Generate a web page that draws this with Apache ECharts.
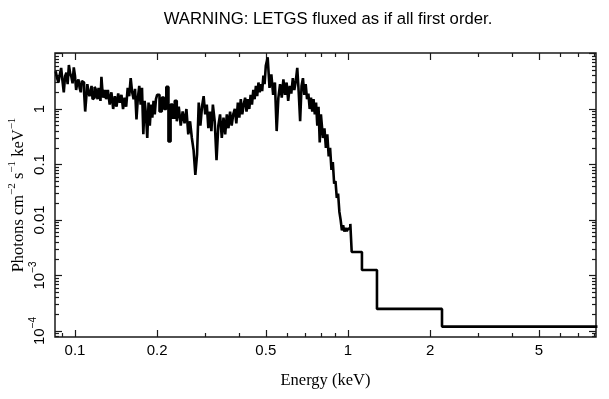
<!DOCTYPE html>
<html>
<head>
<meta charset="utf-8">
<script src="https://cdn.jsdelivr.net/npm/echarts@6/dist/echarts.min.js"></script>
<style>
  html, body { margin: 0; background: #fff; }
  #chart { width: 609px; height: 399px; }
</style>
</head>
<body>
<div id="chart"></div>
<script>
// bin lower edges (keV); the last entry closes the last bin
const energyEdges = [
  0.085, 0.086, 0.087, 0.088, 0.089, 0.090, 0.091, 0.092, 0.093, 0.094, 0.095, 0.096,
  0.097, 0.098, 0.099, 0.100, 0.101, 0.102, 0.103, 0.104, 0.105, 0.106, 0.107, 0.108,
  0.109, 0.110, 0.111, 0.112, 0.113, 0.114, 0.115, 0.116, 0.117, 0.118, 0.119, 0.120,
  0.121, 0.122, 0.123, 0.124, 0.125, 0.126, 0.127, 0.128, 0.129,
  0.130, 0.132, 0.134, 0.136, 0.138, 0.140, 0.142, 0.144, 0.146, 0.148, 0.150, 0.152,
  0.154, 0.156, 0.158, 0.160, 0.162, 0.164, 0.166, 0.168, 0.170, 0.172, 0.174, 0.176,
  0.178, 0.180, 0.182, 0.184, 0.186, 0.188, 0.190, 0.192, 0.194, 0.196, 0.198,
  0.200, 0.204, 0.208, 0.212, 0.216, 0.220, 0.224, 0.228, 0.232, 0.236, 0.240, 0.244,
  0.248, 0.252, 0.256, 0.260, 0.264, 0.268, 0.272, 0.276, 0.280, 0.284, 0.288, 0.292,
  0.296, 0.300, 0.304, 0.308, 0.312, 0.316,
  0.320, 0.325, 0.330, 0.335, 0.340, 0.345, 0.350, 0.355, 0.360, 0.365, 0.370, 0.375,
  0.380, 0.385, 0.390, 0.395, 0.400, 0.405, 0.410, 0.415, 0.420, 0.425, 0.430, 0.435,
  0.440, 0.445, 0.450, 0.455, 0.460, 0.465, 0.470, 0.475, 0.480, 0.485, 0.490, 0.495,
  0.500, 0.508, 0.516, 0.524, 0.532, 0.540, 0.548, 0.556, 0.564, 0.572, 0.580, 0.588,
  0.596, 0.604, 0.612, 0.620, 0.628, 0.636, 0.644, 0.652, 0.660, 0.668, 0.676, 0.684,
  0.692, 0.700, 0.708, 0.716, 0.724, 0.732, 0.740, 0.748, 0.756, 0.764, 0.772, 0.780,
  0.788, 0.796,
  0.80, 0.81, 0.82, 0.83, 0.84, 0.85, 0.86, 0.87, 0.88, 0.89, 0.90, 0.91,
  0.92, 0.93, 0.94, 0.95, 0.96, 0.97, 0.98, 0.99, 1.00, 1.01, 1.02,
  1.032, 1.125, 1.277, 2.21,
  8.2
];

// photons cm^-2 s^-1 keV^-1, one per bin
const photonFlux = [
  4.8, 3.6, 3.0, 4.2, 5.5, 3.2, 2.0, 3.9, 4.5, 2.8, 6.2, 4.4,
  3.8, 2.9, 5.6, 4.0, 2.2, 3.0, 3.4, 2.4, 2.0, 3.2, 3.0, 2.0,
  0.9, 1.6, 2.8, 2.1, 1.7, 2.0, 2.6, 1.5, 1.6, 2.5, 2.3, 1.9,
  1.5, 2.4, 2.0, 1.4, 3.8, 2.2, 1.6, 1.7, 2.2,
  1.5, 2.2, 1.2, 2.0, 1.0, 1.7, 1.1, 1.9, 1.3, 1.8, 1.0, 1.6,
  1.1, 2.4, 1.7, 3.6, 2.0, 1.5, 2.3, 0.65, 1.6, 2.6, 1.2, 2.4,
  0.35, 1.4, 0.8, 0.3, 1.3, 0.5, 1.2, 0.7, 1.4, 0.8, 1.5,
  1.8, 0.9, 1.6, 1.0, 2.5, 0.26, 1.2, 0.7, 1.4, 0.6, 1.1, 0.5,
  0.9, 0.55, 1.0, 0.35, 0.6, 0.3, 0.18, 0.065, 0.15, 1.3, 0.5, 1.1,
  1.7, 0.8, 1.2, 0.45, 0.9, 0.4,
  1.2, 0.6, 0.12, 0.5, 0.8, 0.3, 0.7, 0.35, 0.8, 0.45, 0.9, 0.5,
  0.8, 1.0, 0.55, 1.3, 0.7, 1.5, 0.8, 1.2, 1.6, 0.9, 1.5, 1.0,
  1.8, 1.2, 2.2, 1.5, 2.6, 1.7, 3.0, 2.0, 2.8, 2.1, 4.0, 2.8,
  6.0, 8.5, 2.4, 4.2, 1.8, 3.0, 0.4, 1.6, 2.8, 1.6, 3.4, 1.8,
  3.0, 1.4, 2.6, 1.9, 3.6, 2.2, 3.2, 5.5, 2.0, 0.6, 2.6, 3.6,
  1.8, 2.8, 1.5, 1.9, 1.0, 1.6, 0.9, 1.5, 0.8, 1.3, 0.5, 1.1,
  0.25, 0.8,
  0.6, 0.3, 0.45, 0.2, 0.35, 0.14, 0.2, 0.08, 0.11, 0.045, 0.05, 0.025,
  0.03, 0.014, 0.01, 0.0065, 0.008, 0.0062, 0.0072, 0.0063, 0.007, 0.0068, 0.0085,
  0.00265, 0.00126, 0.00025, 0.00012
];

const energyRange = [0.0845, 8.1];
const fluxRange = [7.8e-5, 10.2];

const xMajorTicks = [0.1, 0.2, 0.5, 1, 2, 5];
const xMinorTicks = [0.09, 0.3, 0.4, 0.6, 0.7, 0.8, 0.9, 3, 4, 6, 7, 8];
const yMajorTicks = [1e-4, 1e-3, 0.01, 0.1, 1, 10];
const yLabelTicks = [1e-4, 1e-3, 0.01, 0.1, 1];
const yTickLabels = ["10{s|−4}", "10{s|−3}", "0.01", "0.1", "1"];
const yMantissas = [2, 3, 4, 5, 6, 7, 8, 9];

const lg = (v) => Math.log10(v);

const yMinorTicks = [];
[-5, -4, -3, -2, -1, 0].forEach((p) => {
  yMantissas.forEach((m) => yMinorTicks.push(m * Math.pow(10, p)));
});

const INK = "#1a1a1a";
const SANS = "Liberation Sans";
const SERIF = "Liberation Serif";

const chartData = energyEdges.map((e, i) => [
  lg(e),
  lg(photonFlux[Math.min(i, photonFlux.length - 1)]),
]);

function xAxisOf(position, ticks, len, withLabels) {
  return {
    type: "value",
    position: position,
    min: lg(energyRange[0]),
    max: lg(energyRange[1]),
    splitLine: { show: false },
    axisLine: { show: false, onZero: false },
    axisTick: {
      show: true,
      inside: true,
      length: len,
      customValues: ticks.map(lg),
      lineStyle: { color: INK, width: 1.2 },
    },
    axisLabel: withLabels
      ? {
          show: true,
          customValues: xMajorTicks.map(lg),
          formatter: (v) => String(+Math.pow(10, v).toPrecision(2)),
          fontFamily: SANS,
          fontSize: 15,
          color: "#000",
          margin: 6,
        }
      : { show: false },
    name: withLabels ? "Energy (keV)" : "",
    nameLocation: "middle",
    nameGap: 35,
    nameMoveOverlap: false,
    nameTextStyle: { fontFamily: SERIF, fontSize: 16.5, color: "#000" },
  };
}

function yAxisOf(position, ticks, len, withLabels) {
  return {
    type: "value",
    position: position,
    min: lg(fluxRange[0]),
    max: lg(fluxRange[1]),
    splitLine: { show: false },
    axisLine: { show: false, onZero: false },
    axisTick: {
      show: true,
      inside: true,
      length: len,
      customValues: ticks.map(lg),
      lineStyle: { color: INK, width: 1.2 },
    },
    axisLabel: withLabels
      ? {
          show: true,
          rotate: 90,
          customValues: yLabelTicks.map(lg),
          formatter: (v) => {
            const i = yLabelTicks.findIndex((t) => Math.abs(lg(t) - v) < 1e-6);
            return i < 0 ? "" : yTickLabels[i].replace(/^([^{]+)/, "{b|$1}");
          },
          margin: 8,
          rich: {
            b: { fontFamily: SANS, fontSize: 15, lineHeight: 19, verticalAlign: "bottom", color: "#000" },
            s: { fontFamily: SANS, fontSize: 10, lineHeight: 10, verticalAlign: "top", color: "#000" },
          },
        }
      : { show: false },
    name: withLabels ? "{b|Photons cm}{s|−2}{b| s}{s|−1}{b| keV}{s|−1}" : "",
    nameLocation: "middle",
    nameGap: 28,
    nameMoveOverlap: false,
    nameRotate: 90,
    nameTextStyle: {
      rich: {
        b: { fontFamily: SERIF, fontSize: 16.5, lineHeight: 20, verticalAlign: "bottom", color: "#000" },
        s: { fontFamily: SERIF, fontSize: 11, lineHeight: 11, verticalAlign: "top", color: "#000" },
      },
    },
  };
}

const chart = echarts.init(document.getElementById("chart"), null, { renderer: "canvas" });

chart.setOption({
  animation: false,
  backgroundColor: "#fff",
  title: {
    text: "WARNING: LETGS fluxed as if all first order.",
    left: 323,
    top: 6,
    textAlign: "center",
    textStyle: { fontFamily: SANS, fontSize: 16.7, fontWeight: "normal", color: "#000" },
  },
  grid: {
    left: 55,
    right: 13,
    top: 53,
    bottom: 62,
    containLabel: false,
    outerBoundsMode: "none",
    show: true,
    borderColor: INK,
    borderWidth: 1.5,
    backgroundColor: "transparent",
  },
  xAxis: [
    xAxisOf("bottom", xMajorTicks, 7, true),
    xAxisOf("bottom", xMinorTicks, 4, false),
    xAxisOf("top", xMajorTicks, 7, false),
    xAxisOf("top", xMinorTicks, 4, false),
  ],
  yAxis: [
    yAxisOf("left", yMajorTicks, 7, true),
    yAxisOf("left", yMinorTicks, 4, false),
    yAxisOf("right", yMajorTicks, 7, false),
    yAxisOf("right", yMinorTicks, 4, false),
  ],
  series: [
    {
      type: "line",
      step: "end",
      data: chartData,
      xAxisIndex: 0,
      yAxisIndex: 0,
      showSymbol: false,
      symbol: "none",
      lineStyle: { color: "#000", width: 2.6 },
      clip: true,
    },
  ],
});
</script>
</body>
</html>
